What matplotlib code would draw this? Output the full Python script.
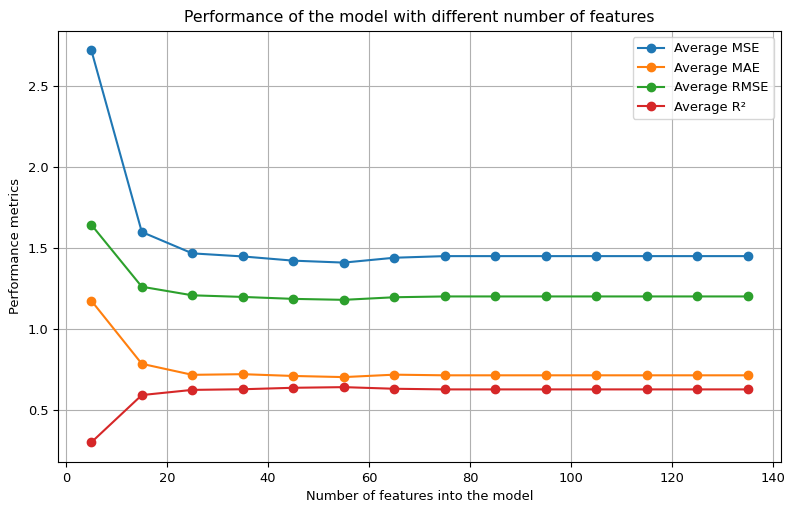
import matplotlib
matplotlib.use("Agg")
import matplotlib.pyplot as plt

# number of features fed into the model
n_features = [5, 15, 25, 35, 45, 55, 65, 75, 85, 95, 105, 115, 125, 135]

avg_mse = [2.722, 1.599, 1.467, 1.448, 1.422, 1.41, 1.44, 1.45, 1.45, 1.45, 1.45, 1.45, 1.45, 1.45]
avg_mae = [1.175, 0.785, 0.717, 0.721, 0.71, 0.703, 0.718, 0.714, 0.714, 0.714, 0.714, 0.714, 0.714, 0.714]
avg_rmse = [1.644, 1.261, 1.208, 1.198, 1.186, 1.18, 1.196, 1.201, 1.201, 1.201, 1.201, 1.201, 1.201, 1.201]
avg_r2 = [0.30, 0.592, 0.624, 0.628, 0.637, 0.641, 0.631, 0.627, 0.627, 0.627, 0.627, 0.627, 0.627, 0.627]

plt.rcParams["font.size"] = 9.4

fig, ax = plt.subplots(figsize=(7.85, 5.05), dpi=100)
fig.subplots_adjust(left=0.0745, right=0.9944, top=0.9396, bottom=0.0852)

ax.plot(n_features, avg_mse, marker="o", label="Average MSE")
ax.plot(n_features, avg_mae, marker="o", label="Average MAE")
ax.plot(n_features, avg_rmse, marker="o", label="Average RMSE")
ax.plot(n_features, avg_r2, marker="o", label="Average R²")

ax.set_title("Performance of the model with different number of features")
ax.set_xlabel("Number of features into the model")
ax.set_ylabel("Performance metrics")
ax.legend()
ax.grid(True)

fig.savefig("out.png", dpi=100)
